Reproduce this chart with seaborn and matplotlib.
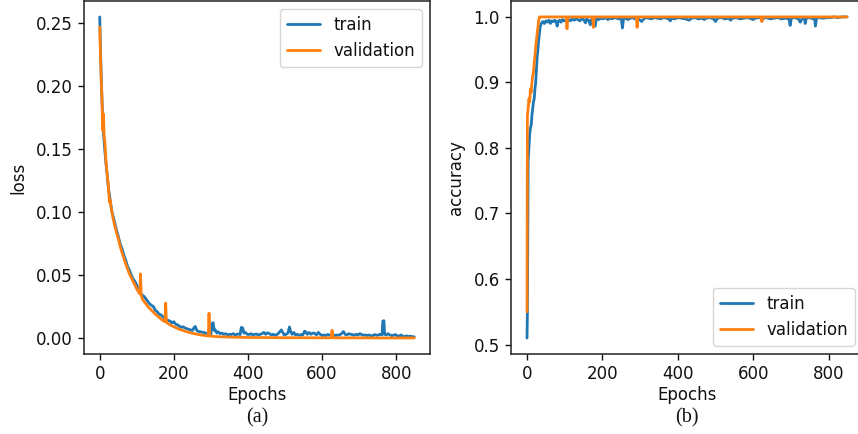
import matplotlib
matplotlib.use("Agg")
import matplotlib.pyplot as plt
import seaborn as sns

# ---- loss (panel a) ----
loss_val_epochs = [0, 2, 4, 6, 8, 10, 12, 14, 17, 20, 23, 26, 28, 30, 33, 36, 40, 45, 50, 55,
                   60, 70, 80, 90, 100, 106, 108, 110, 112, 115, 120, 130, 140, 150, 160, 170,
                   176, 178, 180, 182, 190, 200, 215, 230, 245, 260, 275, 290, 293, 295, 297,
                   300, 320, 350, 400, 450, 500, 550, 600, 620, 625, 627, 630, 650, 700, 750,
                   800, 849]
loss_val = [0.247, 0.225, 0.205, 0.19, 0.165, 0.178, 0.16, 0.155, 0.14, 0.13, 0.122, 0.108,
            0.11, 0.105, 0.1, 0.095, 0.09, 0.084, 0.079, 0.073, 0.068, 0.059, 0.051, 0.045,
            0.039, 0.036, 0.035, 0.051, 0.034, 0.031, 0.029, 0.025, 0.022, 0.019, 0.0165,
            0.014, 0.013, 0.0278, 0.0125, 0.012, 0.0105, 0.009, 0.007, 0.0055, 0.0042, 0.0032,
            0.0024, 0.0018, 0.0017, 0.0198, 0.0016, 0.0015, 0.0011, 0.0008, 0.0005, 0.0004,
            0.0003, 0.0003, 0.0002, 0.0002, 0.0002, 0.0062, 0.0002, 0.0002, 0.0002, 0.0001,
            0.0001, 0.0001]

loss_train_epochs = [0, 2, 4, 6, 8, 10, 12, 14, 17, 20, 23, 26, 30, 33, 36, 40, 45, 50, 55, 60,
                     65, 70, 75, 80, 85, 90, 95, 100, 105, 110, 115, 120, 125, 130, 135, 140,
                     145, 150, 155, 160, 165, 170, 175, 180, 185, 190, 195, 200, 205, 210, 215,
                     220, 225, 230, 235, 240, 245, 250, 255, 258, 262, 265, 270, 275, 280, 285,
                     290, 295, 300, 303, 306, 309, 312, 316, 320, 325, 330, 335, 340, 345, 350,
                     355, 360, 365, 370, 375, 379, 382, 386, 389, 393, 398, 403, 408, 413, 418,
                     423, 428, 433, 438, 443, 448, 453, 458, 463, 468, 473, 478, 483, 487, 490,
                     494, 498, 503, 508, 512, 515, 519, 524, 528, 533, 538, 543, 548, 553, 556,
                     560, 565, 570, 575, 580, 585, 590, 595, 600, 605, 610, 615, 620, 625, 630,
                     635, 640, 645, 650, 655, 658, 662, 667, 672, 677, 682, 687, 692, 697, 702,
                     707, 712, 717, 722, 727, 732, 737, 742, 747, 752, 757, 762, 764, 767, 769,
                     773, 778, 783, 788, 793, 798, 803, 808, 813, 818, 823, 828, 833, 838, 843,
                     849]
loss_train = [0.255, 0.23, 0.208, 0.19, 0.175, 0.163, 0.155, 0.148, 0.138, 0.13, 0.12, 0.114,
              0.106, 0.1, 0.097, 0.092, 0.086, 0.081, 0.075, 0.071, 0.066, 0.062, 0.057, 0.054,
              0.05, 0.047, 0.045, 0.042, 0.038, 0.036, 0.034, 0.033, 0.031, 0.029, 0.027, 0.026,
              0.025, 0.022, 0.021, 0.019, 0.0185, 0.017, 0.016, 0.0145, 0.014, 0.0135, 0.012,
              0.013, 0.011, 0.0105, 0.0095, 0.0085, 0.009, 0.008, 0.0075, 0.007, 0.0065, 0.006,
              0.0085, 0.0092, 0.006, 0.0055, 0.005, 0.0048, 0.0045, 0.004, 0.0038, 0.0035,
              0.003, 0.0115, 0.0122, 0.006, 0.0065, 0.004, 0.005, 0.0035, 0.004, 0.003, 0.0035,
              0.0025, 0.003, 0.0028, 0.0035, 0.0025, 0.003, 0.0032, 0.0028, 0.0085, 0.008,
              0.004, 0.0045, 0.003, 0.0028, 0.0035, 0.0025, 0.003, 0.0032, 0.0024, 0.003, 0.0035,
              0.0045, 0.003, 0.0042, 0.0035, 0.0025, 0.003, 0.0022, 0.0028, 0.004, 0.0055,
              0.0065, 0.0045, 0.0025, 0.003, 0.004, 0.0088, 0.0055, 0.003, 0.0045, 0.0025, 0.003,
              0.0022, 0.0028, 0.0025, 0.0055, 0.005, 0.003, 0.0045, 0.003, 0.004, 0.0038,
              0.0025, 0.0045, 0.003, 0.002, 0.0025, 0.002, 0.0028, 0.0025, 0.002, 0.0028, 0.002,
              0.0025, 0.0022, 0.003, 0.0042, 0.0052, 0.003, 0.0025, 0.0035, 0.003, 0.0028,
              0.0022, 0.003, 0.0025, 0.0035, 0.0028, 0.0022, 0.0025, 0.002, 0.0025, 0.0018,
              0.002, 0.0028, 0.0022, 0.0025, 0.003, 0.0025, 0.0135, 0.0138, 0.003, 0.0025,
              0.0035, 0.0025, 0.002, 0.0022, 0.0028, 0.0018, 0.0015, 0.0025, 0.0015, 0.0012,
              0.0018, 0.0012, 0.0015, 0.0012, 0.001]

# ---- accuracy (panel b) ----
acc_val_epochs = [0, 1, 3, 5, 7, 9, 11, 13, 15, 17, 19, 21, 23, 25, 27, 29, 31, 33, 104, 106,
                  108, 174, 176, 178, 290, 292, 294, 621, 623, 625, 849]
acc_val = [0.55, 0.85, 0.86, 0.875, 0.87, 0.89, 0.885, 0.9, 0.91, 0.915, 0.93, 0.94, 0.955,
           0.965, 0.975, 0.985, 0.995, 1.0, 1.0, 0.982, 1.0, 1.0, 0.984, 1.0, 1.0, 0.984, 1.0,
           1.0, 0.993, 1.0, 1.0]

acc_train_epochs = [0, 1, 3, 5, 7, 9, 11, 13, 15, 17, 19, 21, 23, 25, 27, 29, 31, 33, 35, 38,
                    42, 46, 50, 54, 58, 62, 66, 70, 74, 78, 80, 82, 86, 90, 94, 98, 102, 106,
                    110, 115, 120, 125, 130, 135, 140, 145, 150, 155, 158, 163, 168, 171, 176,
                    181, 184, 190, 196, 202, 208, 214, 220, 226, 232, 238, 244, 250, 253, 256,
                    262, 268, 274, 280, 286, 292, 298, 304, 310, 316, 322, 330, 338, 346, 354,
                    362, 370, 376, 380, 384, 392, 400, 410, 420, 430, 436, 445, 455, 465, 470,
                    475, 485, 495, 500, 505, 515, 525, 535, 540, 545, 555, 565, 575, 585, 595,
                    600, 605, 615, 621, 623, 626, 635, 645, 655, 665, 675, 685, 695, 698, 701,
                    710, 720, 725, 730, 736, 738, 741, 750, 758, 763, 765, 768, 775, 785, 795,
                    805, 815, 825, 835, 849]
acc_train = [0.51, 0.55, 0.78, 0.8, 0.82, 0.83, 0.835, 0.85, 0.86, 0.87, 0.875, 0.89, 0.9,
             0.92, 0.94, 0.95, 0.965, 0.975, 0.985, 0.99, 0.993, 0.99, 0.994, 0.992, 0.995,
             0.99, 0.994, 0.993, 0.995, 0.991, 0.986, 0.993, 0.995, 0.992, 0.996, 0.994, 0.995,
             0.993, 0.996, 0.994, 0.997, 0.995, 0.997, 0.996, 0.994, 0.997, 0.996, 0.991,
             0.997, 0.995, 0.988, 0.996, 0.997, 0.986, 0.997, 0.996, 0.998, 0.997, 0.999,
             0.996, 0.998, 0.997, 0.999, 0.998, 0.997, 0.998, 0.983, 0.997, 0.998, 0.996,
             0.998, 0.999, 0.997, 0.998, 0.996, 0.993, 0.997, 0.999, 0.998, 0.997, 0.999,
             0.998, 0.997, 0.999, 0.998, 0.997, 0.994, 0.998, 0.997, 0.999, 0.998, 0.997,
             0.995, 0.998, 0.999, 0.997, 0.998, 0.996, 0.998, 0.999, 0.997, 0.993, 0.998,
             0.999, 0.997, 0.998, 0.995, 0.998, 0.999, 0.997, 0.998, 0.999, 0.997, 0.996,
             0.998, 0.999, 0.998, 0.994, 0.998, 0.999, 0.997, 0.998, 0.999, 0.997, 0.998,
             0.997, 0.987, 0.998, 0.999, 0.997, 0.992, 0.998, 0.997, 0.99, 0.998, 0.999,
             0.997, 0.998, 0.986, 0.998, 0.999, 0.998, 0.999, 0.999, 1.0, 0.999, 1.0, 1.0]

colors = ["#1f77b4", "#ff7f0e"]

sns.set_theme(style="ticks")
plt.rcParams["font.family"] = ["DejaVu Sans"]
plt.rcParams["axes.edgecolor"] = "#222222"
plt.rcParams["axes.linewidth"] = 1.1
plt.rcParams["text.color"] = "#111111"
plt.rcParams["axes.labelcolor"] = "#111111"
plt.rcParams["xtick.color"] = "#111111"
plt.rcParams["ytick.color"] = "#111111"

fig = plt.figure(figsize=(8.58, 4.34), dpi=100)
ax1 = fig.add_axes([0.0979, 0.1843, 0.4033, 0.8137])
ax2 = fig.add_axes([0.5956, 0.1843, 0.4103, 0.8137])

sns.lineplot(x=loss_train_epochs, y=loss_train, ax=ax1, color=colors[0], lw=2.0, label="train")
sns.lineplot(x=loss_val_epochs, y=loss_val, ax=ax1, color=colors[1], lw=2.0, label="validation")
ax1.set_xlabel("Epochs", fontsize=12, labelpad=2)
ax1.set_ylabel("loss", fontsize=12, labelpad=6)
ax1.set_xticks([0, 200, 400, 600, 800])
ax1.set_yticks([0.0, 0.05, 0.10, 0.15, 0.20, 0.25])
ax1.set_yticklabels(["0.00", "0.05", "0.10", "0.15", "0.20", "0.25"])
ax1.legend(loc="upper right", fontsize=12, handlelength=2.0)

sns.lineplot(x=acc_train_epochs, y=acc_train, ax=ax2, color=colors[0], lw=2.0, label="train")
sns.lineplot(x=acc_val_epochs, y=acc_val, ax=ax2, color=colors[1], lw=2.0, label="validation")
ax2.set_xlabel("Epochs", fontsize=12, labelpad=2)
ax2.set_ylabel("accuracy", fontsize=12, labelpad=6)
ax2.set_xticks([0, 200, 400, 600, 800])
ax2.set_yticks([0.5, 0.6, 0.7, 0.8, 0.9, 1.0])
ax2.legend(loc="lower right", fontsize=12, handlelength=2.0)

for ax in (ax1, ax2):
    ax.tick_params(labelsize=12, length=4, width=1, pad=4)
    ax.margins(x=0.05, y=0.05)

fig.text(0.2995, 0.037, "(a)", ha="center", va="center", fontsize=14.5,
         family=["Liberation Serif", "DejaVu Serif"])
fig.text(0.8007, 0.037, "(b)", ha="center", va="center", fontsize=14.5,
         family=["Liberation Serif", "DejaVu Serif"])

fig.savefig("out.png", dpi=100)
